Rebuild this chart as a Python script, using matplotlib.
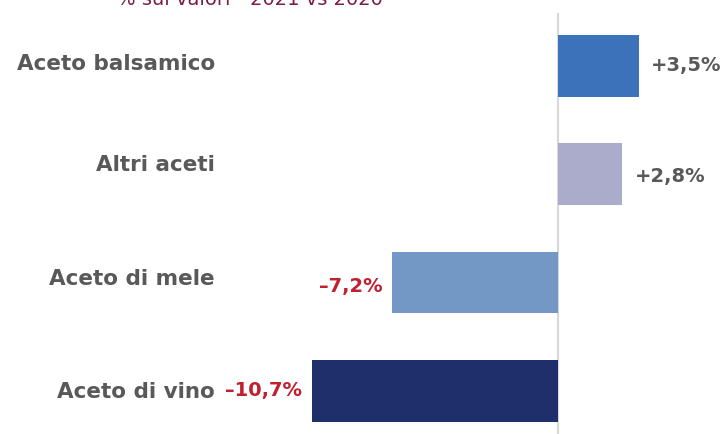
import matplotlib.pyplot as plt
import matplotlib.transforms as mtransforms

# variazione % sui valori, 2021 vs 2020
categorie = ["Aceto balsamico", "Altri aceti", "Aceto di mele", "Aceto di vino"]
variazioni = [3.5, 2.8, -7.2, -10.7]
colori = ["#3C72BA", "#ABABCB", "#7398C6", "#1F2F6B"]
titolo = "% sui valori - 2021 vs 2020"

W, H = 723, 434
fig = plt.figure(figsize=(W / 100, H / 100), dpi=100)
ax = fig.add_axes([0, 0, 1, 1])

# scala: zero a x=558 px, ~23 px per punto percentuale
px_per_pct = 23.0
x0 = 558
ax.set_xlim(-x0 / px_per_pct, (W - x0) / px_per_pct)
passo = 108.3
ax.set_ylim((H - 66) / passo, -66 / passo)
ax.axis("off")

pos = list(range(len(categorie)))
ax.barh(pos, variazioni, height=0.57, color=colori)

# linea dello zero
ax.axvline(0, ymin=0, ymax=1 - 14 / H, color="#D9D9D9", lw=1.5, zorder=0)

font = "DejaVu Sans"
grigio = "#595959"
rosso = "#C0202F"

# etichette delle categorie, allineate a destra
trans = mtransforms.blended_transform_factory(ax.transAxes, ax.transData)
spost = [-2, -9, -4, 1]
for i, (nome, dy) in enumerate(zip(categorie, spost)):
    ax.annotate(nome, (215 / W, i), xycoords=trans, xytext=(0, -dy * 0.72),
                textcoords="offset points", ha="right", va="center",
                fontsize=15.5, fontweight="bold", color=grigio, family=font)

# valori accanto alle barre
spost_val = [0, -2, -4, 0]
for i, (v, dy) in enumerate(zip(variazioni, spost_val)):
    testo = ("+" if v > 0 else "\u2013") + f"{abs(v):.1f}".replace(".", ",") + "%"
    if v > 0:
        ax.annotate(testo, (v, i), xytext=(9, dy * 0.72), textcoords="offset points",
                    ha="left", va="center", fontsize=14, fontweight="bold",
                    color=grigio, family=font)
    else:
        ax.annotate(testo, (v, i), xytext=(-7, dy * 0.72), textcoords="offset points",
                    ha="right", va="center", fontsize=14, fontweight="bold",
                    color=rosso, family=font)

fig.text(250 / W, 1 - 5 / H, titolo, ha="center", va="baseline",
         fontsize=14, color="#7B1E45", family=font)

fig.savefig("out.png", dpi=100)
